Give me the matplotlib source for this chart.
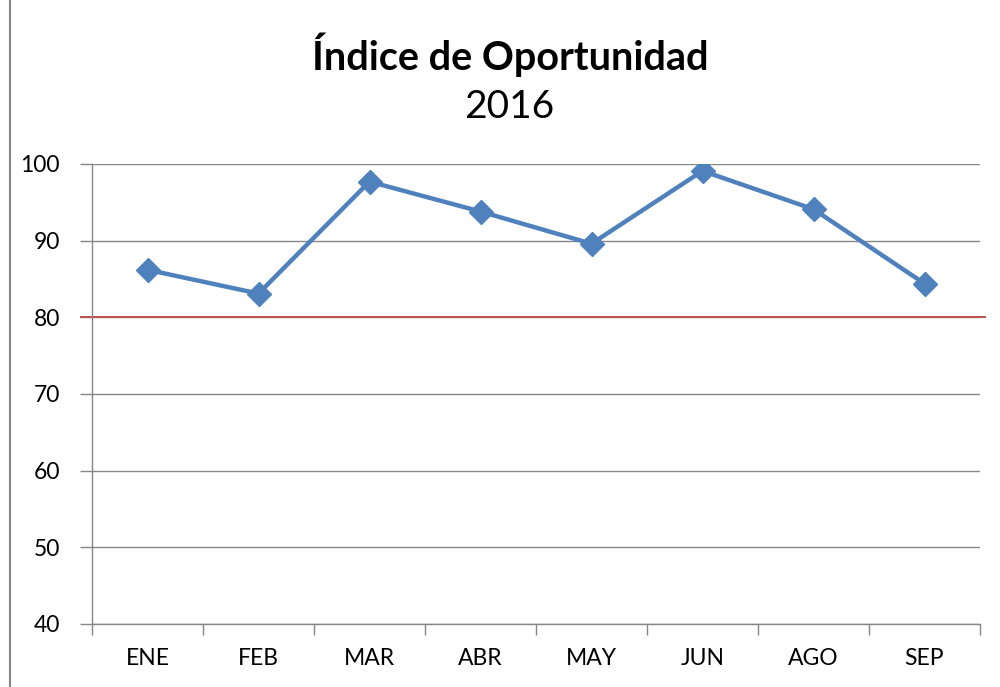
import matplotlib
matplotlib.use('Agg')

import matplotlib.pyplot as plt
from matplotlib.lines import Line2D

months = ['ENE', 'FEB', 'MAR', 'ABR', 'MAY', 'JUN', 'AGO', 'SEP']
values = [86.2, 83.1, 97.7, 93.8, 89.6, 99.1, 94.1, 84.4]
target = 80
yticks = [40, 50, 60, 70, 80, 90, 100]

plt.rcParams['font.family'] = ['Lato', 'DejaVu Sans']

fig = plt.figure(figsize=(10, 6.87), dpi=100)
ax = fig.add_axes([0.092, 1 - 624 / 687, 0.888, 460 / 687])

x_pos = list(range(len(months)))
ax.set_xlim(-0.5, len(months) - 0.5)
ax.set_ylim(40, 100)

for y in yticks:
    ax.axhline(y, color='#868686', lw=1.0, zorder=1)

ax.plot(x_pos, values, color='#4F81BD', lw=3.2, marker='D', markersize=12.5,
        zorder=3)

# red reference line runs a bit past the plot area
ax.add_line(Line2D([-0.012, 1.006], [(target - 40) / 60] * 2,
                   transform=ax.transAxes, color='#C0504D', lw=1.4,
                   clip_on=False, zorder=2))

ax.set_yticks(yticks)
ax.set_xticks([i + 0.5 for i in range(-1, len(months))], minor=False)
ax.set_xticklabels([])
ax.set_xticks(x_pos, minor=True)
ax.set_xticklabels(months, minor=True)
ax.tick_params(axis='x', which='major', length=8, color='#868686', width=1)
ax.tick_params(axis='x', which='minor', length=0, pad=17, labelsize=16.5,
               labelcolor='#000000')
ax.tick_params(axis='y', length=9, color='#868686', width=1, pad=14,
               labelsize=16.5)

for side in ['top', 'right']:
    ax.spines[side].set_visible(False)
for side in ['left', 'bottom']:
    ax.spines[side].set_color('#868686')
    ax.spines[side].set_linewidth(1.0)

fig.text(0.51, 1 - 55 / 687, 'Índice de Oportunidad', ha='center',
         va='center', fontsize=28.5, fontweight='bold')
fig.text(0.509, 1 - 107 / 687, '2016', ha='center', va='center', fontsize=28)

# chart frame edge on the left
fig.add_artist(Line2D([0.0095, 0.0095], [0, 1], transform=fig.transFigure,
                      color='#868686', lw=1.5))

fig.savefig('out.png', dpi=100, facecolor='white')
